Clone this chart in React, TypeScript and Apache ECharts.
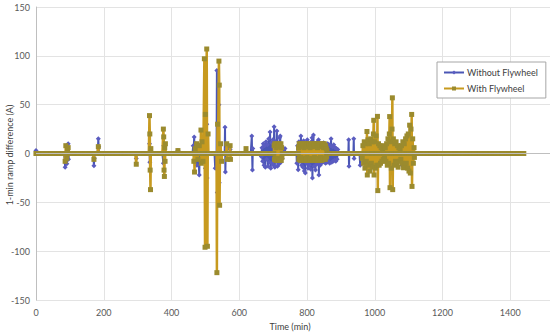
import React, { useEffect, useRef } from "react";
import * as echarts from "echarts";

// Time axis (minutes) and value axis ticks
const xTicks = [0, 200, 400, 600, 800, 1000, 1200, 1400, 1600];
const yTicks = [-150, -100, -50, 0, 50, 100, 150];
const lastMinute = 1440; // recording spans 0..1440 min; baseline value read as 0

// Non-zero readings [minute, A] for "Without Flywheel"
const withoutFlywheel: [number, number][] = [
  [0, 3], [1, 2],
  [86, -14], [88, -8], [91, -10.5], [93, 5], [95, 10], [96, -6],
  [171, -12.5], [172, -5], [184, 15], [185, 7],
  [296, -5], [335, 10], [336, -9], [376, -10], [377, 8], [419, 3],
  [464, 8], [467, 17], [469, -5], [472, 10], [475, -12], [478, 6], [482, -22], [485, 9], [488, -8], [492, 5],
  [499, 20], [500, -15], [504, 30], [505, -25], [529, -15], [534, 85], [535, -40], [540, 50], [541, -30],
  [558, 27], [559, -19], [563, 5], [573, 4],
  [637, 18], [639, -17], [640, 5],
  [665, -3], [667, 6], [669, -8], [671, 10], [673, -12], [675, 8], [677, -14], [679, 12], [681, -6], [683, 9],
  [685, -13], [687, 15], [689, -9], [691, 22], [693, -15], [695, 11], [697, -10], [699, 14], [701, -12],
  [703, 27.5], [705, -14], [707, 12], [709, -8], [711, 23], [713, -13], [715, 10], [717, -11], [719, 16],
  [721, 18], [723, -9], [725, 7], [727, -5], [729, 4], [735, 5],
  [770, -10], [772, 8], [774, -16.6], [776, 12], [778, -8], [780, 10], [782, 18], [784, -12], [786, 9],
  [788, -14], [790, 13], [792, -18], [794, 8], [795, -20], [797, 11], [799, -10], [801, 14], [803, -15],
  [805, 10], [807, -12], [809, 9], [811, -16], [813, 12], [815, 16], [816, -25], [818, 11], [819, 19],
  [821, -13], [823, 10], [825, -17], [827, 9], [829, -11], [831, 12], [833, -9], [834, 14], [835, -22],
  [837, 10], [839, -12], [841, 8], [843, -10], [845, 9], [847, -8], [849, 11], [851, -9], [853, 7],
  [855, -10], [857, 8], [859, -9], [861, 10], [863, -8], [865, 9], [867, -10], [869, 8], [871, 15],
  [873, -9], [875, 7], [877, -8], [879, 9], [881, -7], [883, 6], [885, -8], [887, 5], [889, -6], [891, 4],
  [923, 14], [924, -13], [938, 15], [939, -5], [957, -12],
  [980, 8], [1000, -8], [1040, 6], [1080, -12], [1100, -10],
];

// Non-zero readings [minute, A] for "With Flywheel"
const withFlywheel: [number, number][] = [
  [86, -8], [88, 8], [91, -5], [93, 4], [95, 6],
  [171, -6], [184, 7], [296, -11],
  [335, 38.8], [336, 20], [337, -17], [338, -37], [339, 5],
  [376, 25], [377, 17], [378, -17], [379, -23.5], [380, 6], [381, -8], [382, 10], [419, 3],
  [466, -8], [468, -19], [470, 5], [474, 10], [478, -6], [482, 8], [487, 24], [488, -10], [490, 12], [493, -8],
  [497, 97], [499, -96], [500, 40], [504, 107], [506, -95], [508, 20],
  [534, -122], [536, 30], [540, 94.6], [541, 70], [542, -53], [545, 10], [548, -8],
  [563, 10], [565, -6], [573, 8], [574, -6], [620, 5],
  [703, 8], [704, -6], [705, 10], [706, -5], [707, 9], [708, -7], [709, 6], [710, -6], [711, 10], [712, -7],
  [713, 7], [714, -6], [715, 9], [716, -5], [717, 10], [718, -7], [719, 8], [720, -6], [721, 9], [722, -5],
  [723, 10], [724, -7], [725, 6], [726, -4],
  [775, 6], [776, -6], [777, 10], [778, -5], [779, 9], [780, -7], [781, 8], [782, -4], [783, 10], [784, -6],
  [785, 7], [786, -7], [787, 9], [788, -5], [789, 10], [790, -6], [791, 6], [792, -7], [793, 9], [794, -5],
  [795, 10], [796, -7], [797, 8], [798, -6], [799, 10], [800, -4], [801, 9], [802, -7], [803, 7], [804, -6],
  [805, 10], [806, -5], [807, 9], [808, -7], [809, 6], [810, -6], [811, 10], [812, -5], [813, 9], [814, -7],
  [815, 8], [816, -6], [817, 10], [818, -5], [819, 7], [820, -7], [821, 9], [822, -4], [823, 10], [824, -6],
  [825, 8], [826, -7], [827, 9], [828, -5], [829, 10], [830, -6], [831, 6], [832, -7], [833, 9], [834, -5],
  [835, 10], [836, -6], [837, 7], [838, -7], [839, 9], [840, -4], [841, 10], [842, -6], [843, 8], [844, -7],
  [845, 9], [846, -5], [847, 10], [848, -5], [849, 6], [850, -6], [851, 10], [852, -5], [853, 7], [854, -6],
  [855, 8], [856, -4], [857, 5], [858, -3], [859, 3],
  [963, -5], [965, 8], [967, -10], [969, 12], [971, -15], [973, 10], [975, -8], [977, 22.5], [978, -22],
  [980, 14], [982, -12], [984, 10], [986, -18], [988, 15], [990, -10], [992, 12], [994, -14], [996, 20],
  [997, 34], [998, -22], [1000, 12], [1002, -15], [1004, 18], [1006, -12], [1008, 38], [1009, -38],
  [1011, 10], [1013, -12], [1015, 8], [1017, -10], [1019, 6], [1021, -8], [1023, 5], [1025, -6], [1027, 8],
  [1029, -5], [1031, 6], [1033, -8], [1035, 10], [1037, -12], [1039, 15], [1041, -10], [1043, 20],
  [1044, 37.8], [1045, -35], [1047, 12], [1049, -15], [1051, 25], [1052, 57], [1053, -37], [1055, 15],
  [1057, -12], [1059, 10], [1061, -8], [1063, 12], [1065, -10], [1067, 8], [1069, -14], [1071, 6],
  [1073, -8], [1075, 5], [1077, -6], [1079, 8], [1081, -10], [1083, 12], [1085, -14.6], [1087, 10],
  [1089, -12], [1091, 15], [1093, -10], [1095, 18], [1097, -15], [1099, 20], [1101, -18], [1103, 29],
  [1105, -20], [1107, 25], [1109, 40], [1110, -33.7], [1112, 15], [1114, -10], [1116, 6], [1117, -4],
];

function toSeries(readings: [number, number][]): [number, number][] {
  const m = new Map<number, number>(readings);
  const out: [number, number][] = [];
  for (let t = 0; t <= lastMinute; t++) out.push([t, m.has(t) ? (m.get(t) as number) : 0]);
  return out;
}

const FONT = "Lato";

export default function App() {
  const ref = useRef<HTMLDivElement>(null);
  useEffect(() => {
    if (!ref.current) return;
    const chart = echarts.init(ref.current, undefined, { renderer: "svg" });
    chart.setOption({
      animation: false,
      backgroundColor: "#ffffff",
      textStyle: { fontFamily: FONT },
      grid: { left: 36, right: -28, top: 7, bottom: 35, containLabel: false, outerBoundsMode: "none" },
      legend: {
        orient: "vertical",
        left: 437,
        top: 62,
        padding: [6, 8, 5, 6],
        itemGap: 7,
        itemWidth: 20,
        itemHeight: 5,
        backgroundColor: "#ffffff",
        borderColor: "#a6a6a6",
        borderWidth: 1,
        textStyle: { fontFamily: FONT, fontSize: 9, color: "#404040", padding: [0, 0, 0, -2] },
        data: ["Without Flywheel", "With Flywheel"],
      },
      xAxis: {
        type: "value",
        min: xTicks[0],
        max: xTicks[xTicks.length - 1],
        interval: 200,
        axisLine: { show: false },
        axisTick: { show: false },
        axisLabel: {
          fontFamily: FONT,
          fontSize: 9,
          color: "#595959",
          margin: 8,
          formatter: (v: number) => (v >= 1600 ? "" : String(v)),
        },
        splitLine: { show: true, lineStyle: { color: "#e3e3e3", width: 1 } },
      },
      yAxis: {
        type: "value",
        min: yTicks[0],
        max: yTicks[yTicks.length - 1],
        interval: 50,
        axisLine: { show: true, lineStyle: { color: "#bfbfbf", width: 1 } },
        axisTick: { show: false },
        axisLabel: { fontFamily: FONT, fontSize: 9, color: "#595959", margin: 6, formatter: (v: number) => String(v) },
        splitLine: { show: true, lineStyle: { color: "#e3e3e3", width: 1 } },
      },
      graphic: [
        {
          type: "text",
          x: 290,
          y: 326,
          style: {
            text: "Time (min)",
            fontFamily: FONT,
            fontSize: 9,
            fill: "#404040",
            align: "center",
            verticalAlign: "middle",
          },
        },
        {
          type: "text",
          x: 9,
          y: 155,
          rotation: Math.PI / 2,
          style: {
            text: "1-min ramp difference (A)",
            fontFamily: FONT,
            fontSize: 9,
            fill: "#404040",
            align: "center",
            verticalAlign: "middle",
          },
        },
      ],
      series: [
        {
          name: "Without Flywheel",
          type: "line",
          data: toSeries(withoutFlywheel),
          symbol: "diamond",
          symbolSize: 5,
          showSymbol: true,
          showAllSymbol: true,
          lineStyle: { color: "#4a56b5", width: 2 },
          itemStyle: { color: "#5a5cc0" },
          markLine: {
            silent: true,
            symbol: "none",
            label: { show: false },
            lineStyle: { color: "#bfbfbf", width: 1, type: "solid" },
            data: [{ yAxis: 0 }],
          },
          z: 2,
        },
        {
          name: "With Flywheel",
          type: "line",
          data: toSeries(withFlywheel),
          symbol: "rect",
          symbolSize: 5,
          showSymbol: true,
          showAllSymbol: true,
          lineStyle: { color: "#c79a1f", width: 2.5 },
          itemStyle: { color: "#9b8b2e" },
          z: 3,
        },
      ],
    });
    return () => chart.dispose();
  }, []);
  return <div ref={ref} style={{ width: 550, height: 335, position: "absolute", left: 0, top: 0 }} />;
}
